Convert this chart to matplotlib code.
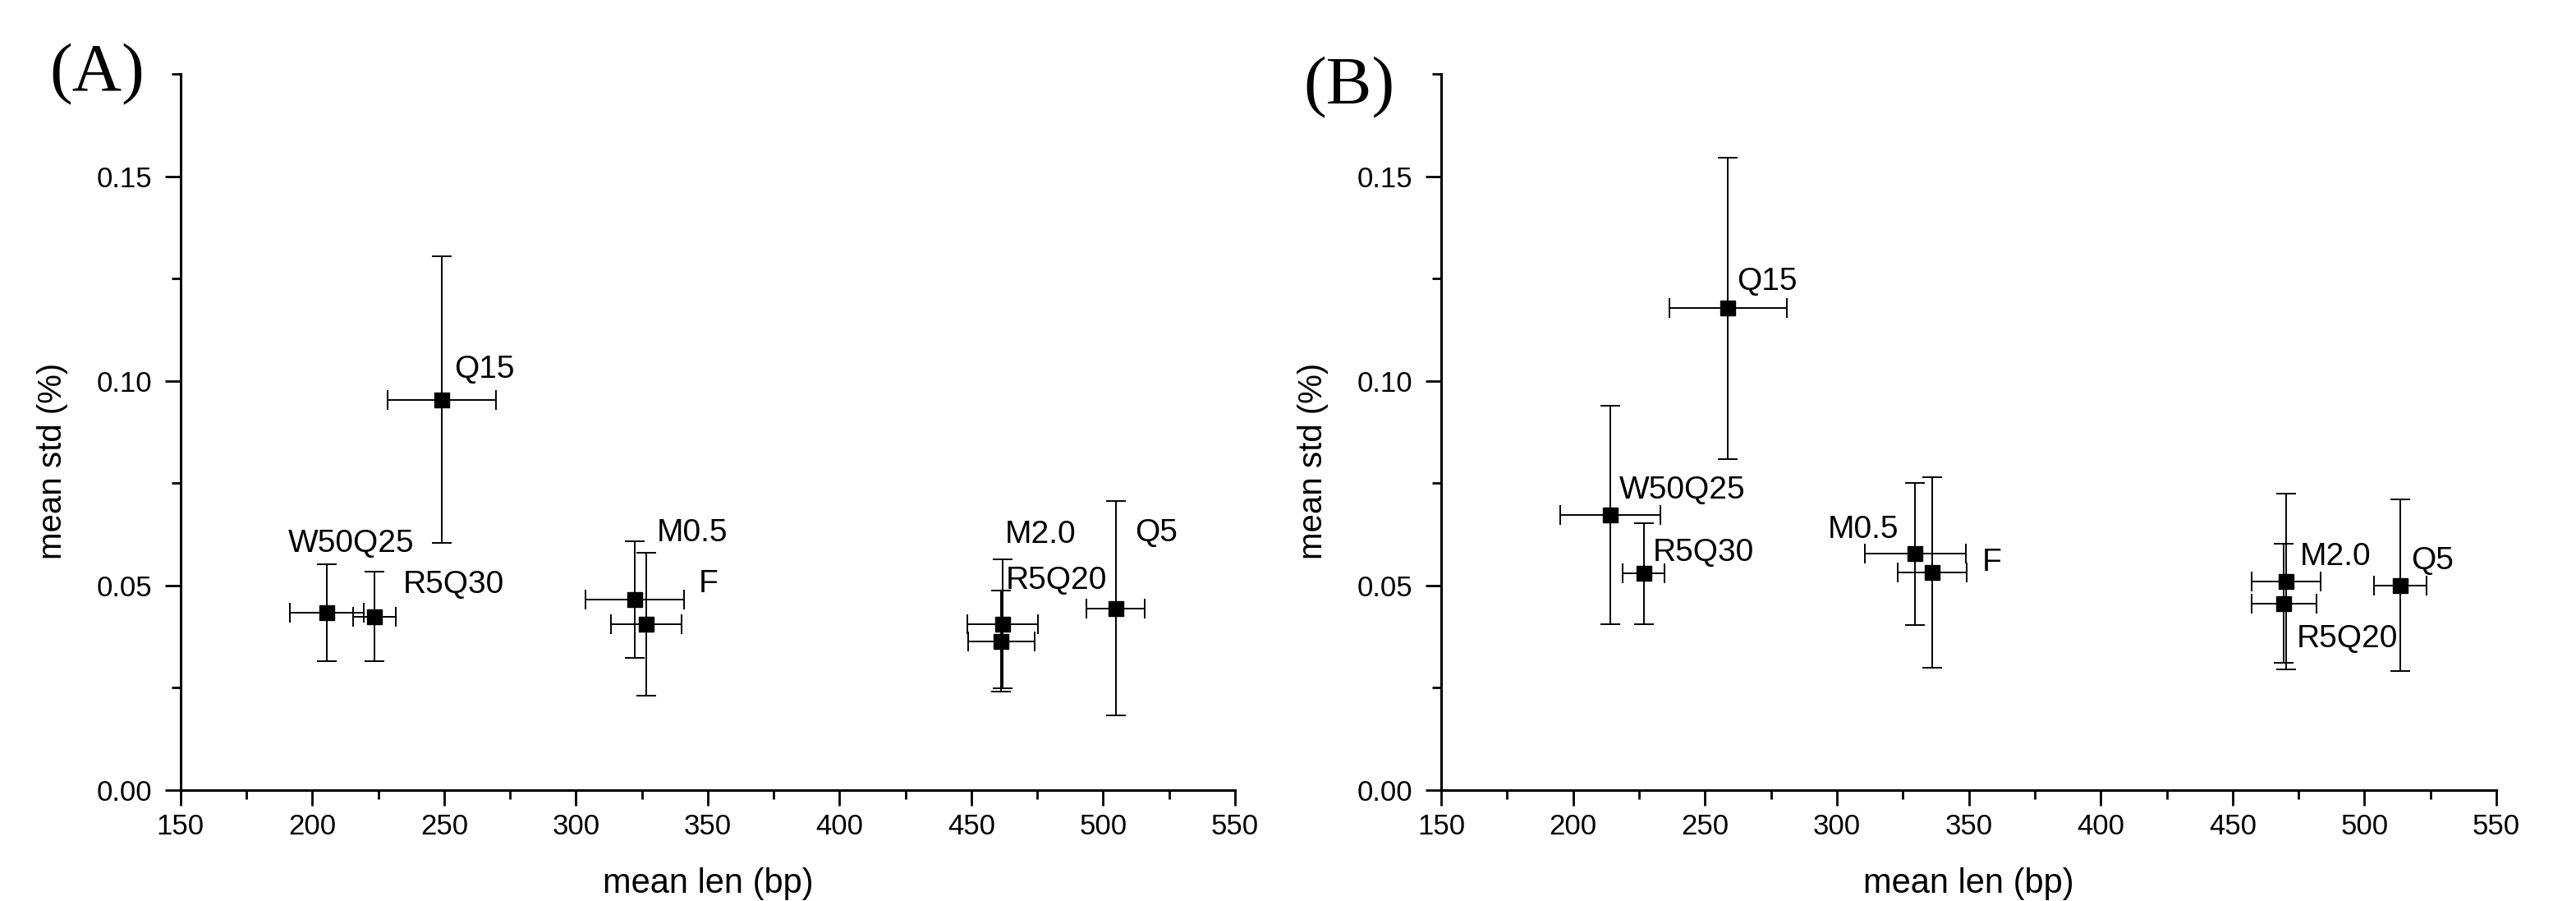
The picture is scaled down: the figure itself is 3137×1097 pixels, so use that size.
import matplotlib
matplotlib.use("Agg")
import matplotlib.pyplot as plt
from matplotlib.ticker import MultipleLocator

plt.rcParams['font.family'] = ['Liberation Sans', 'DejaVu Sans']

# sample names (same order in both panels)
names = ["Q15", "W50Q25", "R5Q30", "M0.5", "F", "M2.0", "R5Q20", "Q5"]

# panel A
a_len = [249.0, 205.6, 223.5, 322.3, 326.7, 462.0, 461.4, 504.8]
a_len_err = [20.6, 14.0, 8.0, 18.7, 13.4, 13.4, 12.5, 11.1]
a_std = [0.0954, 0.0434, 0.0424, 0.0466, 0.0405, 0.0406, 0.0364, 0.0444]
a_std_err = [0.0350, 0.0118, 0.0110, 0.0142, 0.0175, 0.0158, 0.0124, 0.0262]

# panel B
b_len = [258.7, 214.1, 226.7, 329.7, 336.1, 470.3, 469.5, 513.6]
b_len_err = [22.3, 19.0, 8.0, 19.2, 13.1, 13.1, 12.3, 10.0]
b_std = [0.1177, 0.0673, 0.0529, 0.0577, 0.0531, 0.0510, 0.0456, 0.0500]
b_std_err = [0.0369, 0.0267, 0.0124, 0.0174, 0.0233, 0.0215, 0.0146, 0.0210]

# label offsets from the point, in points
a_offsets = [(11, 19), (-34, 53), (25, 21), (19, 51), (46, 28), (2, 71), (4, 46), (17, 59)]
b_offsets = [(8, 16), (8, 14), (8, 11), (-77, 14), (44, 2), (12, 14), (11, -38), (9, 14)]


def draw_panel(ax, xs, xerr, ys, yerr, offsets):
    ax.errorbar(xs, ys, xerr=xerr, yerr=yerr, fmt='s', color='black',
                markersize=13, elinewidth=1.4, capsize=8.5, capthick=1.4)
    for n, x, y, off in zip(names, xs, ys, offsets):
        ax.annotate(n, (x, y), xytext=off, textcoords='offset points',
                    ha='left', va='baseline', fontsize=28)
    ax.set_xlim(150, 550)
    ax.set_ylim(0, 0.175)
    ax.xaxis.set_major_locator(MultipleLocator(50))
    ax.xaxis.set_minor_locator(MultipleLocator(25))
    ax.yaxis.set_major_locator(MultipleLocator(0.05))
    ax.yaxis.set_minor_locator(MultipleLocator(0.025))
    ax.yaxis.set_major_formatter(lambda v, p: "%.2f" % v)
    for s in ['top', 'right']:
        ax.spines[s].set_visible(False)
    for s in ['left', 'bottom']:
        ax.spines[s].set_linewidth(2.2)
    ax.tick_params(which='major', direction='out', length=14, width=2, labelsize=25)
    ax.tick_params(which='minor', direction='out', length=8, width=2)
    ax.tick_params(axis='x', pad=6)
    ax.tick_params(axis='y', pad=11)
    ax.set_xlabel("mean len (bp)", fontsize=30, labelpad=24)
    ax.set_ylabel("mean std (%)", fontsize=29)
    ax.yaxis.set_label_coords(-0.107, 0.459)


fig = plt.figure(figsize=(31.37, 10.97), dpi=100)
ax1 = fig.add_axes([0.0701, 0.1231, 0.4093, 0.7949])
ax2 = fig.add_axes([0.5595, 0.1231, 0.4096, 0.7949])

draw_panel(ax1, a_len, a_len_err, a_std, a_std_err, a_offsets)
draw_panel(ax2, b_len, b_len_err, b_std, b_std_err, b_offsets)

fig.text(0.0191, 0.8997, "(A)", fontsize=60, family='Liberation Serif', ha='left', va='baseline')
fig.text(0.5059, 0.8851, "(B)", fontsize=60, family='Liberation Serif', ha='left', va='baseline')

fig.savefig("out.png", dpi=100)
